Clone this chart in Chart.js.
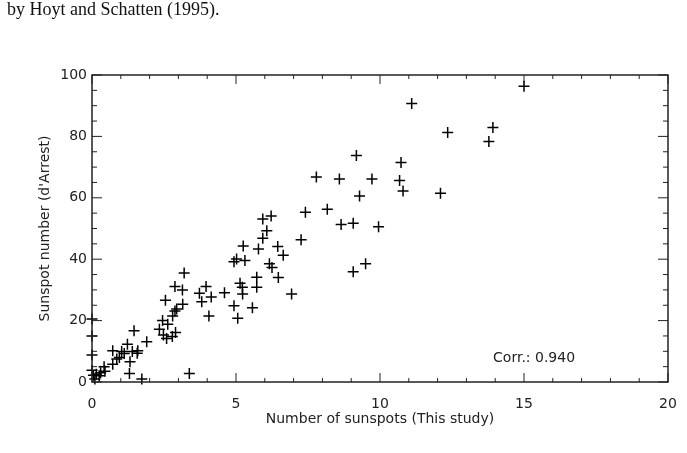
<!DOCTYPE html>
<html>
<head>
<meta charset="utf-8">
<script src="https://cdn.jsdelivr.net/npm/chart.js@4.4.1/dist/chart.umd.min.js"></script>
<style>
  html, body { margin: 0; padding: 0; background: #fff; }
  #wrap { position: relative; width: 687px; height: 453px; }
  #caption { position: absolute; left: 7px; top: 0px; font-family: "Liberation Serif", serif; font-size: 18px; line-height: 18px; color: #111; white-space: nowrap; }
</style>
</head>
<body>
<div id="wrap">
  <canvas id="scatterChart" width="687" height="453"></canvas>
  <div id="caption">by Hoyt and Schatten (1995).</div>
</div>
<script>
// sunspot counts: this study (x) vs d'Arrest (y)
const thisStudy = [0, 0, 0, 0, 0.05, 0.1, 0.15, 0.25, 0.3, 0.45, 0.42, 0.72, 0.86, 0.95, 1.32, 1.3, 1.73, 3.38,
  0.72, 1.03, 1.12, 1.23, 1.4, 1.57, 1.59, 1.46, 1.9, 2.34, 2.45, 2.63, 2.48, 2.59, 2.79, 2.9,
  2.8, 2.88, 2.94, 3.15, 2.55, 2.88, 3.14, 3.2, 3.73, 3.81, 3.96, 4.14, 4.06, 4.6, 4.93, 5.06,
  5.57, 5.14, 5.22, 5.23, 5.72, 5.72, 6.47, 6.93, 4.93, 5.02, 5.31, 5.25, 5.78, 6.16, 6.25, 6.45,
  6.64, 5.93, 6.07, 5.93, 6.22, 7.26, 7.41, 7.79, 8.17, 8.59, 8.65, 9.07, 9.07, 9.5, 9.18, 9.29,
  9.72, 9.95, 10.68, 10.73, 10.8, 11.1, 12.1, 12.35, 13.78, 13.92, 15.0];
const dArrest = [20.5, 15.0, 8.8, 3.8, 2.2, 1.0, 2.5, 2.0, 3.0, 3.5, 5.0, 5.8, 7.5, 8.0, 6.6, 2.8, 1.0, 2.8,
  10.2, 9.9, 9.3, 12.3, 9.9, 9.4, 10.2, 16.7, 13.1, 17.2, 20.0, 18.8, 15.3, 14.2, 14.8, 16.1,
  21.5, 23.1, 23.8, 25.3, 26.6, 31.1, 30.0, 35.5, 28.9, 26.1, 31.1, 27.7, 21.5, 29.1, 24.8, 20.8,
  24.2, 32.2, 30.9, 28.7, 34.1, 30.9, 34.0, 28.7, 39.2, 40.1, 39.6, 44.3, 43.3, 38.5, 37.3, 44.1,
  41.3, 46.8, 49.3, 53.1, 54.1, 46.3, 55.3, 66.8, 56.3, 66.1, 51.3, 51.7, 35.9, 38.5, 73.8, 60.6,
  66.1, 50.6, 65.6, 71.5, 62.2, 90.7, 61.5, 81.3, 78.3, 82.9, 96.3];
const xTicks = [0, 5, 10, 15, 20];
const yTicks = [0, 20, 40, 60, 80, 100];
const corrLabel = 'Corr.: 0.940';

const points = thisStudy.map((x, i) => ({ x: x, y: dArrest[i] }));
const fontFam = '"DejaVu Sans", sans-serif';

// box round the plot with inward major/minor ticks (IDL style)
const frame = {
  id: 'frame',
  afterDraw(chart) {
    const { ctx, chartArea: a, scales: { x, y } } = chart;
    ctx.save();
    ctx.strokeStyle = '#222';
    ctx.lineWidth = 1.5;
    ctx.strokeRect(a.left, a.top, a.right - a.left, a.bottom - a.top);
    ctx.lineWidth = 1;
    ctx.beginPath();
    for (let v = 0; v <= 20; v++) {
      const px = x.getPixelForValue(v);
      const len = v % 5 === 0 ? 9 : 4;
      ctx.moveTo(px, a.bottom); ctx.lineTo(px, a.bottom - len);
      ctx.moveTo(px, a.top); ctx.lineTo(px, a.top + len);
    }
    for (let v = 0; v <= 100; v += 5) {
      const py = y.getPixelForValue(v);
      const len = v % 20 === 0 ? 10 : 5;
      ctx.moveTo(a.left, py); ctx.lineTo(a.left + len, py);
      ctx.moveTo(a.right, py); ctx.lineTo(a.right - len, py);
    }
    ctx.stroke();
    // correlation note
    ctx.fillStyle = '#222';
    ctx.font = '14px ' + fontFam;
    ctx.textAlign = 'center';
    ctx.textBaseline = 'middle';
    ctx.fillText(corrLabel, x.getPixelForValue(15.35), y.getPixelForValue(7.8));
    ctx.restore();
  }
};

new Chart(document.getElementById('scatterChart'), {
  type: 'scatter',
  data: {
    datasets: [{
      data: points,
      pointStyle: 'cross',
      pointRadius: 5.5,
      pointHoverRadius: 5.5,
      borderColor: '#000',
      backgroundColor: '#000',
      borderWidth: 1.5,
      clip: false
    }]
  },
  options: {
    responsive: false,
    animation: false,
    layout: { padding: { left: 0, top: 75, right: 19, bottom: 0 } },
    plugins: { legend: { display: false }, tooltip: { enabled: false } },
    scales: {
      x: {
        type: 'linear', min: 0, max: 20,
        // fixed box so the plot area sits where the original does
        afterFit: s => { s.height = 71; s.paddingLeft = 0; s.paddingRight = 0; },
        afterBuildTicks: s => { s.ticks = xTicks.map(v => ({ value: v })); },
        grid: { display: false, drawTicks: false },
        border: { display: false },
        ticks: { color: '#222', padding: 14, maxRotation: 0, font: { family: fontFam, size: 14 } },
        title: { display: true, text: 'Number of sunspots (This study)', color: '#222', padding: { top: 0, bottom: 25 }, font: { family: fontFam, size: 14 } }
      },
      y: {
        type: 'linear', min: 0, max: 100,
        afterFit: s => { s.width = 92; s.paddingTop = 0; s.paddingBottom = 0; },
        afterBuildTicks: s => { s.ticks = yTicks.map(v => ({ value: v })); },
        grid: { display: false, drawTicks: false },
        border: { display: false },
        ticks: { color: '#222', padding: 5, font: { family: fontFam, size: 14 } },
        title: { display: true, text: "Sunspot number (d'Arrest)", color: '#222', padding: { top: 37, bottom: 0 }, font: { family: fontFam, size: 14 } }
      }
    }
  },
  plugins: [frame]
});
</script>
</body>
</html>
